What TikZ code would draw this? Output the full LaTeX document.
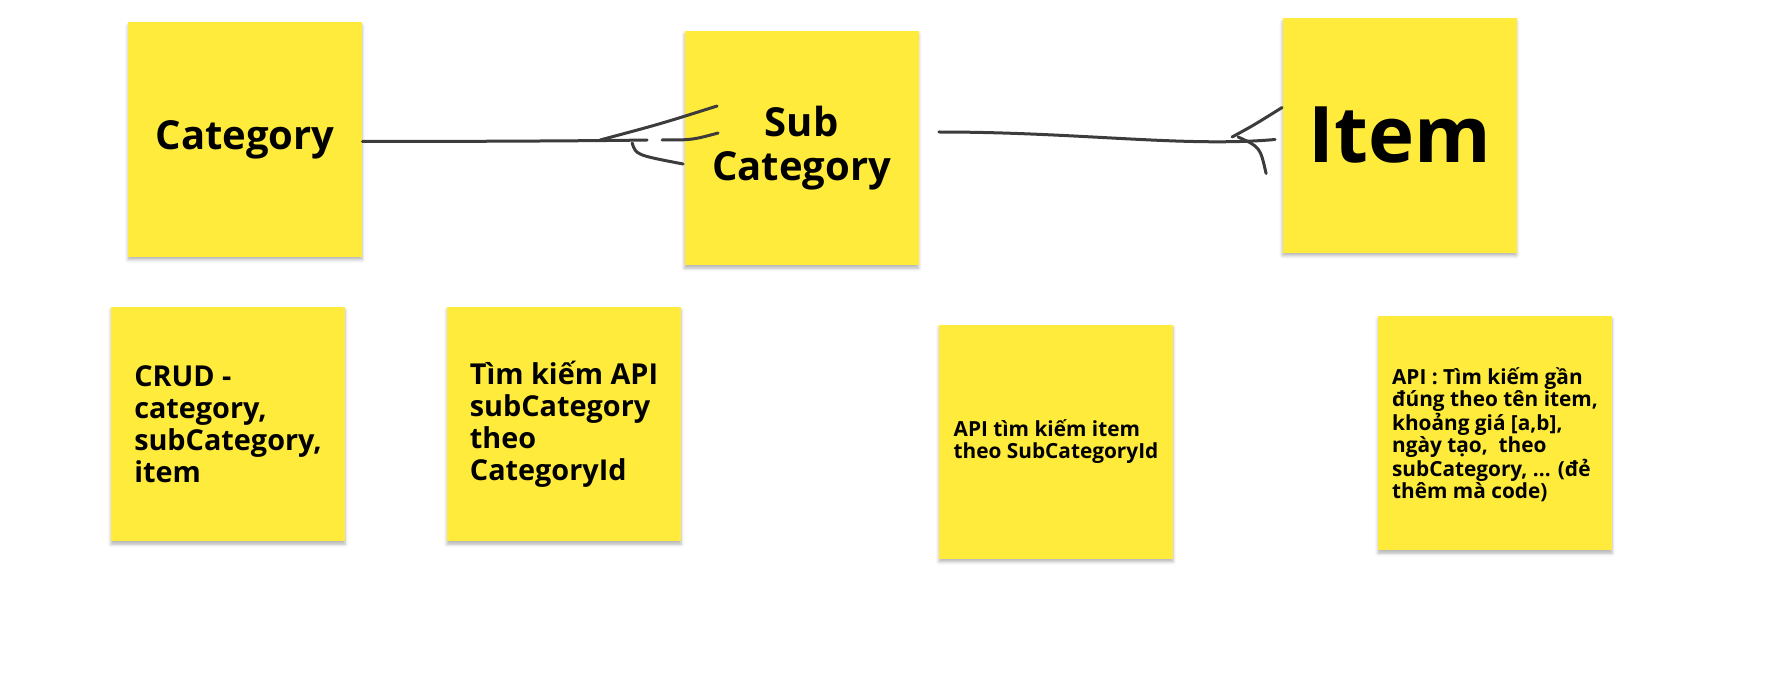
\documentclass[tikz,border=0pt]{standalone}
\usepackage{fontspec}
\setmainfont{Open Sans}
\usepackage{tikz}
\usetikzlibrary{shadows.blur}
\definecolor{stickyyellow}{HTML}{FFEB3B}
\definecolor{penGray}{HTML}{3C3C3C}

\begin{document}
\begin{tikzpicture}[x=0.5pt,y=-0.5pt]
\tikzset{note/.style = {fill=stickyyellow, minimum size=117pt, inner sep=0pt, text=black,
    blur shadow={shadow xshift=0pt, shadow yshift=-1.6pt, shadow blur radius=1.6pt, shadow opacity=30}},
  pen/.style = {draw=penGray, line width=1.5pt, line cap=round, line join=round}}
\def\bigfont{\bfseries\fontsize{20}{22}\selectfont}
\def\notefont{\bfseries\fontsize{14.4}{16}\selectfont}
\def\smallfont{\bfseries\fontsize{10.4}{10.8}\selectfont}

\useasboundingbox (0,0) rectangle (1774,674);

\node[note, font=\bigfont] (Category) at (245,139.5) {Category};
\node[note, font=\bigfont, align=center] (SubCategory) at (801.5,148) {Sub\\Category};
\node[note, font=\bfseries\fontsize{39}{40}\selectfont] (Item) at (1399.5,135.5) {Item};

\node[note, font=\notefont, align=left] (CrudNote) at (228,424) {CRUD -\\category,\\subCategory,\\item};
\node[note, font=\notefont, align=left] (SubApiNote) at (564,424) {Tìm kiếm API\\subCategory\\theo\\CategoryId};
\node[note, font=\smallfont, align=left] (ItemApiNote) at (1056,441.5) {API tìm kiếm item\\theo SubCategoryId};
\node[note, font=\smallfont, align=left, text depth=0pt] (SearchNote) at (1495,433) {API : Tìm kiếm gần\\đúng theo tên item,\\khoảng giá [a,b],\\ngày tạo,~ theo\\subCategory, ... (đẻ\\thêm mà code)};

% crow's foot at SubCategory
\path (SubCategory.west) -- +(-84,-8) coordinate (S0) -- +(-37,-8) coordinate (S1) -- +(-22,-8) coordinate (S2) -- +(34,-15) coordinate (S3);
\path (SubCategory.west) -- +(33,-42) coordinate (S4) -- +(-52,-5) coordinate (S5) -- +(-1,16) coordinate (S6);

\draw[pen] ([yshift=-1pt]Category.east) .. controls +(90,0) and +(-60,1) .. (S1);
\draw[pen] (S0) .. controls +(60,-16) .. (S4);
\draw[pen] (S2) .. controls +(30,0) .. (S3);
\draw[pen] (S5) .. controls +(4,12) .. (S6);

% crow's foot at Item
\path (SubCategory.east) -- +(20,-16) coordinate (T0);
\path (Item.west) -- +(-7,4) coordinate (T1) -- +(-50,1.5) coordinate (T2) -- +(0,-28) coordinate (T3);
\path (Item.west) -- +(-44,1.5) coordinate (T4) -- +(-16,38) coordinate (T5);

\draw[pen] (T0) .. controls +(140,0) and +(-90,8) .. (T1);
\draw[pen] (T2) .. controls +(22,-12) .. (T3);
\draw[pen] (T4) .. controls +(22,10) .. (T5);
\end{tikzpicture}
\end{document}
